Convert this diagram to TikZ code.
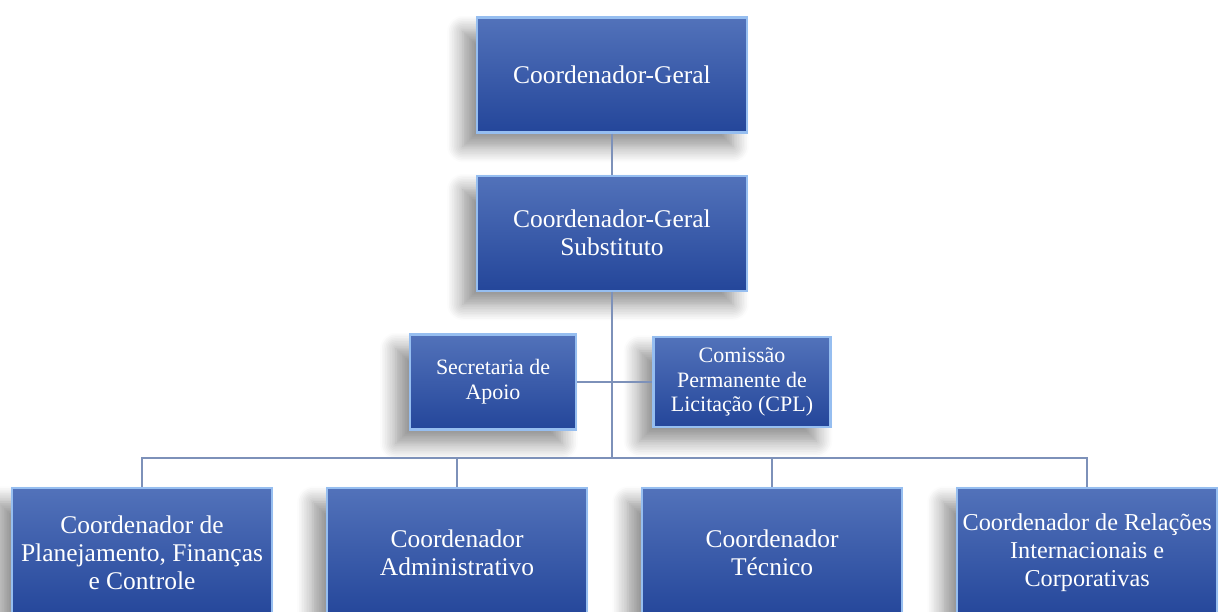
\documentclass[tikz,border=0pt]{standalone}
\usepackage{fontspec}
\setmainfont{Liberation Serif}
\usetikzlibrary{positioning,shadows.blur}
\definecolor{boxtop}{RGB}{82,114,186}
\definecolor{boxbottom}{RGB}{36,70,154}
\definecolor{boxedge}{RGB}{150,190,240}
\definecolor{linkline}{RGB}{125,145,185}

\begin{document}
\begin{tikzpicture}[x=0.02cm, y=-0.02cm,
	orgbox/.style={draw=boxedge, line width=1.2pt, top color=boxtop,
		bottom color=boxbottom, text=white, align=center,
		font=\fontsize{14.5}{16}\selectfont,
		blur shadow={shadow xshift=-8pt, shadow yshift=-8pt,
			shadow blur steps=10, shadow blur radius=9pt, shadow opacity=45}},
	smallbox/.style={orgbox, font=\fontsize{12.5}{14}\selectfont},
	link/.style={draw=linkline, line width=0.8pt}]

	\useasboundingbox (0,0) rectangle (1221,612);

	\node [orgbox, minimum width=5.4cm, minimum height=2.3cm] (geral)
		at (612,75) {Coordenador-Geral};

	\node [orgbox, minimum width=5.4cm, minimum height=2.3cm,
		below=0.82cm of geral] (subst) {Coordenador-Geral\\Substituto};

	\node [smallbox, minimum width=3.32cm, minimum height=1.9cm] (secret)
		at (493,382) {Secretaria de\\Apoio};

	\node [smallbox, minimum width=3.54cm, minimum height=1.8cm] (cpl)
		at (742,382) {Comissão\\Permanente de\\Licitação (CPL)};

	\node [orgbox, minimum width=5.2cm, minimum height=2.6cm] (plan)
		at (142,553) {Coordenador de\\Planejamento, Finanças\\e Controle};

	\node [orgbox, minimum width=5.2cm, minimum height=2.6cm,
		right=1.06cm of plan] (adm) {Coordenador\\Administrativo};

	\node [orgbox, minimum width=5.2cm, minimum height=2.6cm,
		right=1.06cm of adm] (tec) {Coordenador\\Técnico};

	\node [orgbox, minimum width=5.2cm, minimum height=2.6cm,
		inner sep=1pt, font=\fontsize{13.8}{16}\selectfont,
		right=1.06cm of tec] (rel)
		{Coordenador de Relações\\Internacionais e\\Corporativas};

	\coordinate (hub) at (612,458);

	\draw[link] (geral) -- (subst);
	\draw[link] (subst) -- (hub);
	\draw[link] (secret) -- (cpl);
	\draw[link] (hub) -| (plan);
	\draw[link] (hub) -| (adm);
	\draw[link] (hub) -| (tec);
	\draw[link] (hub) -| (rel);

\end{tikzpicture}
\end{document}
